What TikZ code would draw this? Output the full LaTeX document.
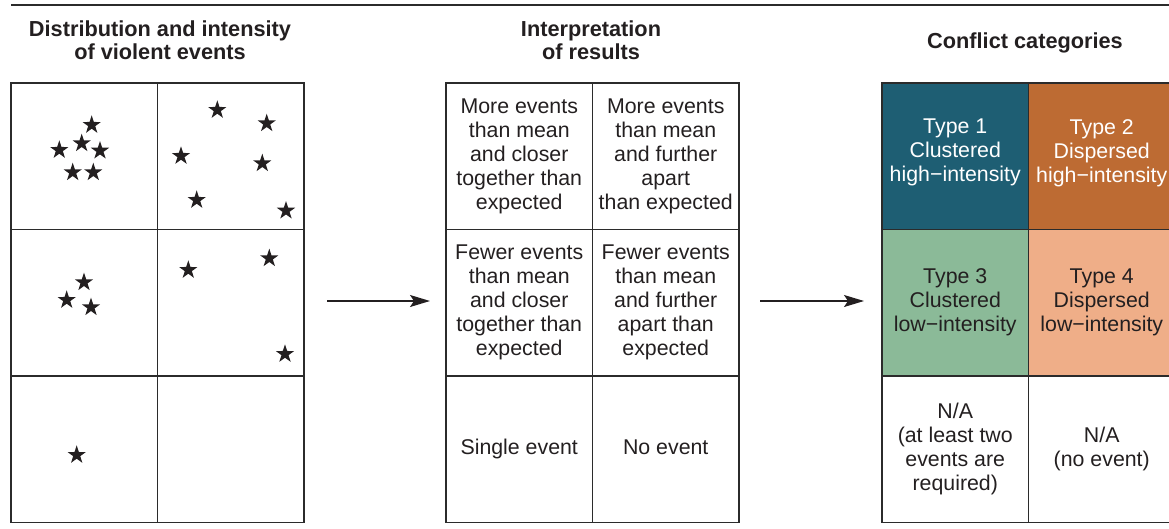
\documentclass[tikz,border=0pt]{standalone}
\usepackage{fontspec}
\setmainfont{Liberation Sans}
\usetikzlibrary{shapes.geometric,arrows.meta}
\definecolor{ink}{HTML}{231F20}
\definecolor{gridline}{HTML}{2B2B2B}
\definecolor{tealc}{HTML}{1E5E73}
\definecolor{orangec}{HTML}{BD6B33}
\definecolor{greenc}{HTML}{8BBA98}
\definecolor{peachc}{HTML}{EFAE88}
\tikzset{
  cell/.style={draw=gridline, line width=0.9pt, minimum width=109.9pt, minimum height=109.9pt,
    inner sep=0pt, anchor=center, align=center, text=ink,
    font=\fontsize{16}{18}\selectfont},
  head/.style={align=center, text=ink, inner sep=0pt, font=\fontsize{16.3}{17.25}\selectfont\bfseries},
  ev/.style={star, star points=5, star point ratio=2.6, fill=ink, draw=none, minimum size=14.5pt, inner sep=0pt},
  arr/.style={draw=ink, line width=1.1pt, -{Stealth[length=15pt,width=9pt,inset=3pt]}},
}
\begin{document}
\begin{tikzpicture}[x=0.75pt,y=-0.75pt]
\useasboundingbox (0,0) rectangle (1169,528);
\draw[gridline, line width=1.1pt] (11,5) -- (1169,5);
% headings
\node[head] (h1) at (160,40.5) {Distribution and intensity\\of violent events};
\node[head] (h2) at (591,40.5) {Interpretation\\of results};
\node[head] (h3) at (1025,43) {Conflict categories};
% left grid
\node[cell] (l11) at (84.25,156.25) {};
\node[cell] (l12) at (230.75,156.25) {};
\node[cell] (l21) at (84.25,302.75) {};
\node[cell] (l22) at (230.75,302.75) {};
\node[cell] (l31) at (84.25,449.25) {};
\node[cell] (l32) at (230.75,449.25) {};
% stars
\node[ev] (s1) at (91.7,125) {};
\node[ev] (s2) at (59.3,150) {};
\node[ev] (s3) at (81.7,143.3) {};
\node[ev] (s4) at (100,150.7) {};
\node[ev] (s5) at (72.7,172.3) {};
\node[ev] (s6) at (93.3,172.3) {};
\node[ev] (s7) at (217.3,110) {};
\node[ev] (s8) at (266.7,123.3) {};
\node[ev] (s9) at (181,156) {};
\node[ev] (s10) at (262.3,163.3) {};
\node[ev] (s11) at (196.7,200) {};
\node[ev] (s12) at (286,210.7) {};
\node[ev] (s13) at (84,282.3) {};
\node[ev] (s14) at (66.7,300) {};
\node[ev] (s15) at (91,307.3) {};
\node[ev] (s16) at (188.3,270) {};
\node[ev] (s17) at (269.3,258.3) {};
\node[ev] (s18) at (285,354) {};
\node[ev] (s19) at (76.7,455) {};
% middle grid
\node[cell] (m11) at (519.25,156.25) {More events\\than mean\\and closer\\together than\\expected};
\node[cell] (m12) at (665.75,156.25) {More events\\than mean\\and further\\apart\\than expected};
\node[cell] (m21) at (519.25,302.75) {Fewer events\\than mean\\and closer\\together than\\expected};
\node[cell] (m22) at (665.75,302.75) {Fewer events\\than mean\\and further\\apart than\\expected};
\node[cell] (m31) at (519.25,449.25) {\strut Single event};
\node[cell] (m32) at (665.75,449.25) {\strut No event};
% right grid
\node[cell, fill=tealc, text=white] (r11) at (955.25,156.25) {Type 1\\Clustered\\high−intensity\\[-15pt]\strut};
\node[cell, fill=orangec, text=white] (r12) at (1101.75,156.25) {Type 2\\Dispersed\\high−intensity\\[-15pt]\strut};
\node[cell, fill=greenc] (r21) at (955.25,302.75) {Type 3\\Clustered\\low−intensity};
\node[cell, fill=peachc] (r22) at (1101.75,302.75) {Type 4\\Dispersed\\low−intensity};
\node[cell] (r31) at (955.25,449.25) {N/A\\(at least two\\events are\\required)};
\node[cell] (r32) at (1101.75,449.25) {N/A\\(no event)};
% arrows
\coordinate (a1s) at (327,301);
\coordinate (a1e) at (430,301);
\coordinate (a2s) at (760,301);
\coordinate (a2e) at (864,301);
\draw[arr] (a1s) -- (a1e);
\draw[arr] (a2s) -- (a2e);
\end{tikzpicture}
\end{document}
